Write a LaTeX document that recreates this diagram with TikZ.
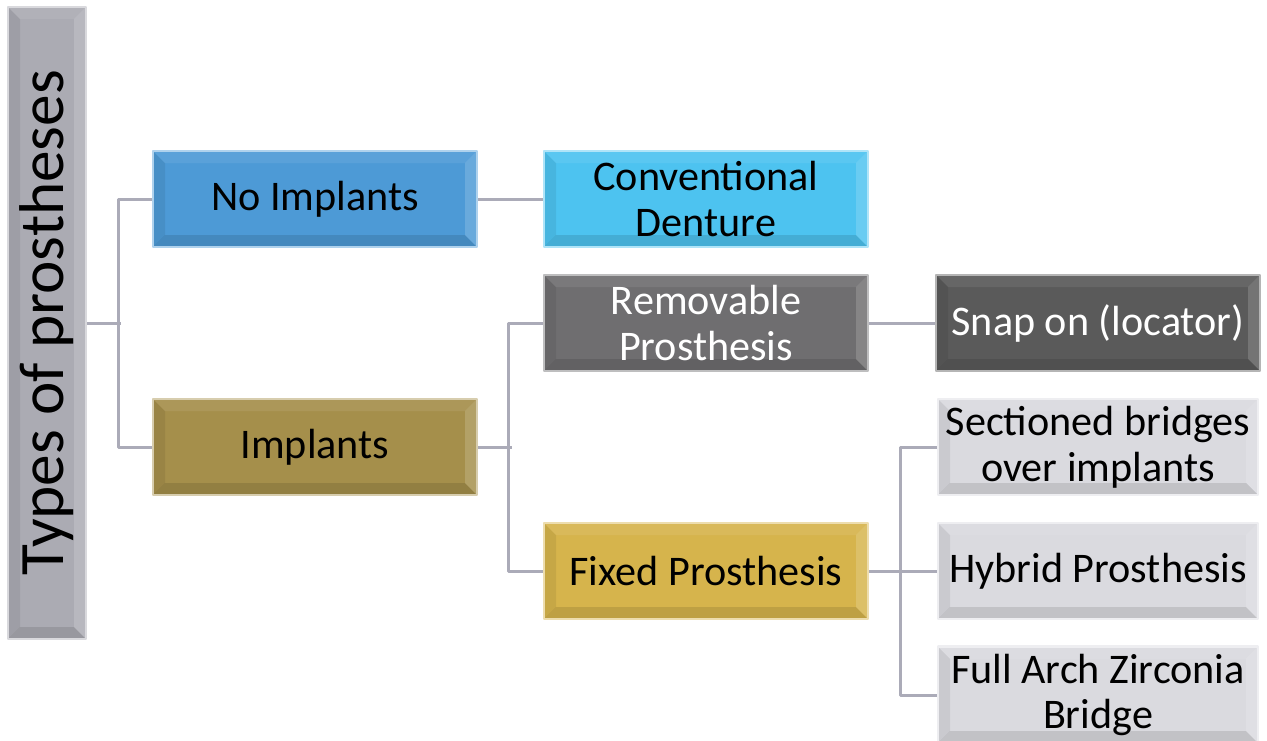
\documentclass[tikz,border=0pt]{standalone}
\usepackage{fontspec}
\setmainfont{Carlito}
\definecolor{rootgray}{HTML}{ABABB3}
\definecolor{noblue}{HTML}{4D9AD6}
\definecolor{convcyan}{HTML}{4DC3F0}
\definecolor{remgray}{HTML}{6F6E70}
\definecolor{snapgray}{HTML}{5A5A5A}
\definecolor{implolive}{HTML}{A58F4B}
\definecolor{fixgold}{HTML}{D6B44C}
\definecolor{palegray}{HTML}{DADADF}
\definecolor{linkgray}{HTML}{ABABB8}
\tikzset{
	bevel/.style={path picture={
		\coordinate (o1) at (path picture bounding box.south west);
		\coordinate (o2) at (path picture bounding box.north west);
		\coordinate (o3) at (path picture bounding box.north east);
		\coordinate (o4) at (path picture bounding box.south east);
		\coordinate (i1) at ([shift={(1.2mm,1.2mm)}]o1);
		\coordinate (i2) at ([shift={(1.2mm,-1.2mm)}]o2);
		\coordinate (i3) at ([shift={(-1.2mm,-1.2mm)}]o3);
		\coordinate (i4) at ([shift={(-1.2mm,1.2mm)}]o4);
		\fill[black,opacity=.07] (o1)--(o2)--(i2)--(i1)--cycle; % left
		\fill[white,opacity=.08] (o2)--(o3)--(i3)--(i2)--cycle; % top
		\fill[white,opacity=.16] (o3)--(o4)--(i4)--(i3)--cycle; % right
		\fill[black,opacity=.11] (o4)--(o1)--(i1)--(i4)--cycle; % bottom
	}},
	box/.style={rectangle, fill=#1, draw=#1!45!white, line width=.8pt, bevel,
		minimum width=32.4mm, minimum height=9.6mm, inner sep=2pt, align=center},
	link/.style={draw=linkgray, line width=.85pt}
}
\begin{document}
\begin{tikzpicture}[x=.1mm, y=-.1mm, line join=round, font=\fontsize{12}{13}\selectfont]
	\useasboundingbox (0,0) rectangle (1267,740);
	\path 
	(47,323) node[box=rootgray, minimum width=7.8mm, minimum height=63.2mm, font=\fontsize{18}{20}\selectfont] (root) {\rotatebox{90}{Types of prostheses}}
	(315,199) node[box=noblue] (noimp) {No Implants}
	(315,447) node[box=implolive] (impl) {Implants}
	(706,199) node[box=convcyan] (conv) {Conventional\\Denture}
	(706,323) node[box=remgray, text=white] (remov) {Removable\\Prosthesis}
	(706,571) node[box=fixgold] (fixed) {Fixed Prosthesis}
	(1098,323) node[box=snapgray, text=white] (snap) {Snap on (locator)}
	(1098,447) node[box=palegray, minimum width=32mm] (sect) {Sectioned bridges\\over implants}
	(1098,571) node[box=palegray, minimum width=32mm] (hybrid) {Hybrid Prosthesis}
	(1098,695) node[box=palegray, minimum width=32mm] (full) {Full Arch Zirconia\\Bridge};
	\draw[link] (root.east)--+(34,0);
	\draw[link] (noimp.west)--+(-33,0) |- (impl.west);
	\draw[link] (noimp.east)--(conv.west);
	\draw[link] (impl.east)--+(34,0);
	\draw[link] (remov.west)--+(-34,0) |- (fixed.west);
	\draw[link] (remov.east)--(snap.west);
	\draw[link] (fixed.east)--+(34,0);
	\draw[link] (sect.west)--+(-36,0) |- (full.west);
	\draw[link] (hybrid.west)--+(-36,0);
\end{tikzpicture}
\end{document}
